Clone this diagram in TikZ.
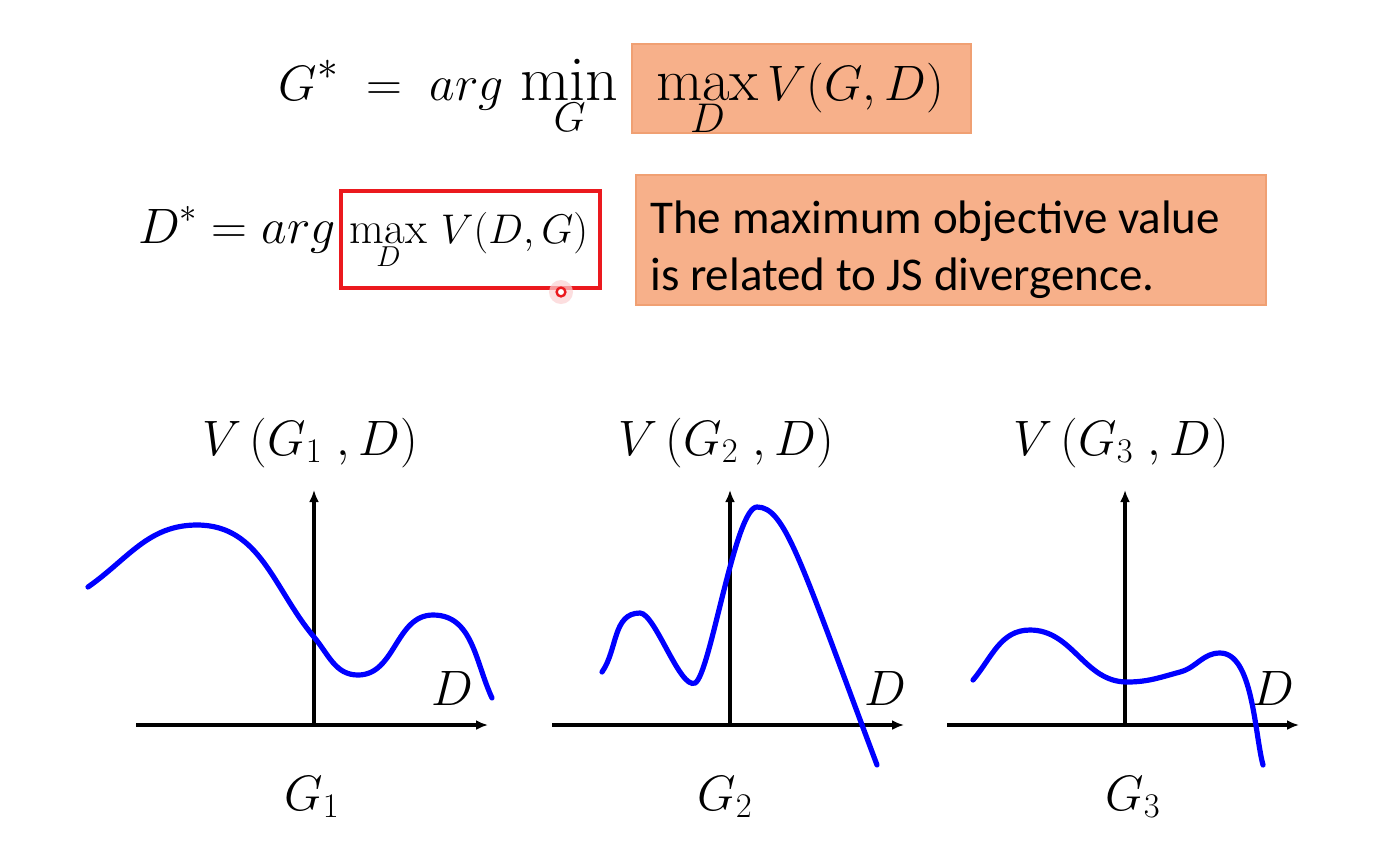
\documentclass[tikz,border=0pt]{standalone}
\usepackage{fontspec}
\newfontfamily\calibri{Carlito}
\usetikzlibrary{positioning,arrows.meta}
\definecolor{boxorange}{RGB}{247,176,138}
\definecolor{boxedge}{RGB}{240,160,115}
\definecolor{markred}{RGB}{235,25,30}

\begin{document}
\begin{tikzpicture}[>={Latex[length=6pt,width=5pt]}, x=0.5pt, y=-0.5pt]
			\tikzset{
				axis/.style={->, line width=1.6pt},
				curve/.style={blue, line width=2.6pt, line cap=round},
				hl/.style={fill=boxorange, draw=boxedge, line width=0.6pt, inner sep=0pt},
				big/.style={font=\fontsize{30}{36}\selectfont, inner sep=0pt},
				mid/.style={font=\fontsize{22.5}{27}\selectfont, inner sep=0pt},
				lab/.style={font=\fontsize{27}{32}\selectfont, inner sep=0pt},
			}
			\useasboundingbox[fill=white] (0,0) rectangle (1385,864);
			% first row
			\node[hl, minimum width=169.5pt, minimum height=44.5pt] (maxbox) at (801.5,88.5) {};
			\node[big, anchor=base east, font=\fontsize{32}{38}\selectfont] (gstar) at (619,100) {$\displaystyle G^{*}\;=\;arg\,\min_G$};
			\node[big, anchor=base] (maxv) at (800,100) {$\displaystyle \max_D V(G,D)$};
			% second row
			\node[mid, anchor=base east, font=\fontsize{25}{30}\selectfont] (dstar) at (336,243) {$\displaystyle D^{*} = arg$};
			\node[draw=markred, line width=1.6pt, minimum width=129.5pt, minimum height=48.5pt] (redbox) at (470.5,239.5) {};
			\node[mid, anchor=base] (maxd) at (469,243) {$\displaystyle \max_D\,V(D,G)$};
			\fill[markred!20, opacity=0.7] (561,292) circle (6pt);
			\draw[markred, line width=1.2pt, fill=white] (561,292) circle (2.2pt);
			\node[hl, minimum width=315pt, minimum height=65pt] (jsbox) at (951,240) {};
			\node[anchor=west, align=left, inner sep=0pt, font=\calibri\fontsize{23.5}{28.5}\selectfont] (jstext) at (650,250)
				{The maximum objective value\\is related to JS divergence.};
			% three panels
			\foreach \i/\ox/\dx/\gx in {1/314/138/-2, 2/730/155/-5, 3/1125/148/8}
				{
					\coordinate (o\i) at (\ox,725);
					\coordinate (xl\i) at (\ox-178,725);
					\coordinate (xr\i) at (\ox+174,725);
					\coordinate (yt\i) at (\ox,490);
					\draw[axis] (xl\i) -- (xr\i);
					\draw[axis] (o\i) -- (yt\i);
					\node[lab] (vlab\i) at (\ox-4,443) {$V\,(G_{\i}\;,D)$};
					\node[lab] (dlab\i) at (\ox+\dx,688) {$D$};
					\node[lab] (glab\i) at (\ox+\gx,797) {$G_{\i}$};
				}
			\draw[curve] (88,587) to[out=35,in=180] (197,525) to[out=0,in=130] (314,637)
				to[out=-50,in=180] (358,675) to[out=0,in=180] (433,615) to[out=0,in=115] (492,698);
			\draw[curve] (602,672) to[out=55,in=180] (640,613)
				.. controls (655,613) and (680,690) .. (695,683)
				.. controls (710,676) and (735,507) .. (757,507)
				.. controls (785,507) and (800,560) .. (877,765);
			\draw[curve] (973,680) to[out=50,in=180] (1030,630) to[out=0,in=180] (1127,682)
				to[out=0,in=195] (1180,672) to[out=15,in=180] (1220,653)
				to[out=0,in=105,looseness=0.7] (1263,765);
		\end{tikzpicture}
\end{document}
